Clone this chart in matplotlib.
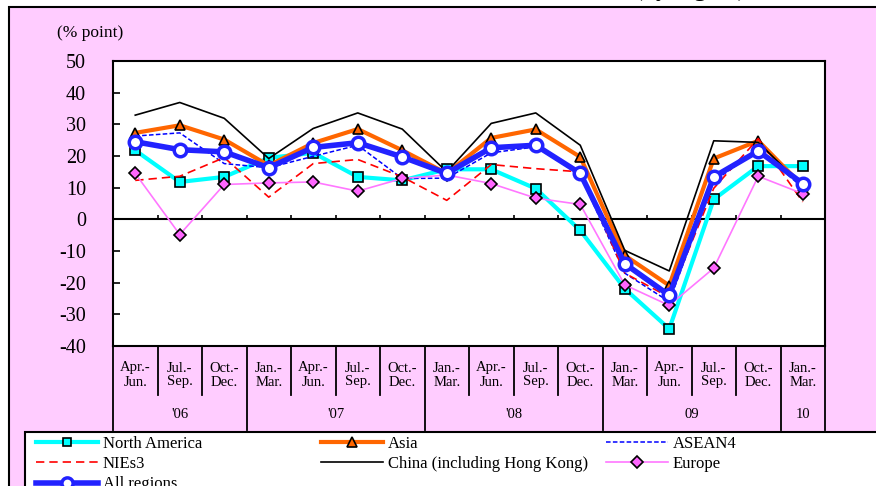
import matplotlib
matplotlib.use("Agg")
import matplotlib.pyplot as plt
import numpy as np
from matplotlib.patches import Rectangle
from matplotlib.transforms import blended_transform_factory

plt.rcParams['font.family'] = ['Liberation Serif', 'DejaVu Serif']
plt.rcParams['axes.unicode_minus'] = False

quarters = ['Apr.-\nJun.', 'Jul.-\nSep.', 'Oct.-\nDec.',
            'Jan.-\nMar.', 'Apr.-\nJun.', 'Jul.-\nSep.', 'Oct.-\nDec.',
            'Jan.-\nMar.', 'Apr.-\nJun.', 'Jul.-\nSep.', 'Oct.-\nDec.',
            'Jan.-\nMar.', 'Apr.-\nJun.', 'Jul.-\nSep.', 'Oct.-\nDec.',
            'Jan.-\nMar.']
years = ["'06", "'07", "'08", "09", "10"]
year_counts = [3, 4, 4, 4, 1]

north_america = [21.8, 11.8, 13.4, 19.4, 21.0, 13.4, 12.3, 15.8, 15.8, 9.7, -3.5, -21.9, -34.6, 6.3, 16.8, 16.8]
asia = [27.3, 29.7, 25.2, 17.0, 24.1, 28.5, 21.8, 14.5, 25.7, 28.4, 19.7, -11.4, -20.9, 19.2, 24.8, 10.5]
asean4 = [26.3, 27.3, 17.6, 16.3, 19.9, 23.4, 12.9, 13.0, 21.0, 22.9, 14.0, -17.0, -26.0, 12.0, 22.0, 10.0]
nies3 = [12.3, 13.6, 19.5, 7.0, 17.6, 18.9, 13.4, 6.0, 17.3, 16.0, 15.0, -17.0, -24.6, 9.8, 25.5, 5.5]
china = [32.9, 36.9, 31.9, 19.2, 28.7, 33.6, 28.5, 15.0, 30.3, 33.6, 23.4, -9.8, -16.3, 24.8, 24.3, 10.5]
europe = [14.5, -4.8, 11.0, 11.5, 11.8, 8.9, 12.9, 14.0, 11.3, 6.7, 4.7, -20.7, -27.2, -15.4, 13.6, 8.1]
all_regions = [24.5, 22.0, 21.3, 16.3, 22.7, 24.2, 19.7, 14.5, 22.6, 23.4, 14.5, -14.0, -24.0, 13.4, 21.6, 11.3]

pink = '#FFCCFF'
W, H = 876, 486
fig = plt.figure(figsize=(W / 100, H / 100), dpi=100)
fig.patch.set_facecolor('white')

# pink panel with black frame (cut off at right and bottom)
fig.patches.append(Rectangle((9 / W, -0.05), 1.0, 1 - 7 / H + 0.05, transform=fig.transFigure,
                             facecolor=pink, edgecolor='black', linewidth=1.5, zorder=-10))
fig.text(690 / W, 1 + 3.5 / H, '(by region)', ha='center', va='baseline',
         fontsize=17, fontweight='bold')

ax = fig.add_axes([113 / W, 1 - 346 / H, 712 / W, 285 / H])
ax.set_facecolor('white')
x = np.arange(len(quarters))

ax.plot(x, north_america, color='#00FFFF', lw=3, marker='s', ms=6.5,
        mfc='#00FFFF', mec='black', mew=1.2, label='North America')
ax.plot(x, asia, color='#FF6600', lw=3, marker='^', ms=7.5,
        mfc='#FF6600', mec='black', mew=1.2, label='Asia')
ax.plot(x, asean4, color='#0000FF', lw=1.1, ls=(0, (3, 1.5)), label='ASEAN4')
ax.plot(x, nies3, color='#FF0000', lw=1.2, ls=(0, (5, 3)), label='NIEs3')
ax.plot(x, china, color='black', lw=1.2, label='China (including Hong Kong)')
ax.plot(x, europe, color='#FF77FF', lw=1.2, marker='D', ms=6.5,
        mfc='#FF66FF', mec='black', mew=1.2, label='Europe')
ax.plot(x, all_regions, color='#2222FF', lw=4, marker='o', ms=9,
        mfc='white', mec='#2222FF', mew=2.5, label='All regions')

ax.set_xlim(-0.5, len(quarters) - 0.5)
ax.set_ylim(-40, 50)
ax.set_yticks(np.arange(-40, 51, 10))
ax.set_xticks([])
ax.tick_params(axis='y', direction='in', length=5, width=1.2, pad=19.5, labelsize=14.5)
for s in ax.spines.values():
    s.set_linewidth(1.5)

# zero line with small ticks at quarter boundaries
ax.axhline(0, color='black', lw=1.5, zorder=1)
bounds = np.arange(-0.5, len(quarters), 1.0)
ax.vlines(bounds[1:-1], 0, 1.3, color='black', lw=1.2, zorder=1)

fig.text(57 / W, 1 - 33 / H, '(% point)', ha='left', va='center', fontsize=12.5)

# category table below the plot
tr = blended_transform_factory(ax.transData, ax.transAxes)
q_bottom = -(395 - 346) / 285
y_bottom = -(430 - 346) / 285
year_edges = np.concatenate([[0], np.cumsum(year_counts)]) - 0.5
for b in bounds:
    yb = y_bottom if b in year_edges else q_bottom
    ax.plot([b, b], [0, yb], color='black', lw=1.3, transform=tr, clip_on=False)
for xi, q in zip(x, quarters):
    ax.text(xi, -(375 - 346) / 285, q, transform=tr, ha='center', va='center',
            fontsize=10.5, linespacing=1.1)
for i, yr in enumerate(years):
    xc = (year_edges[i] + year_edges[i + 1]) / 2
    ax.text(xc, -(415 - 346) / 285, yr, transform=tr, ha='center', va='center', fontsize=10.5)

# legend box (cut off at bottom)
fig.patches.append(Rectangle((25 / W, -0.2), 1.0, 0.2 + (H - 432) / H, transform=fig.transFigure,
                             facecolor='white', edgecolor='black', linewidth=1.5, zorder=-5))
handles, labels = ax.get_legend_handles_labels()
lookup = dict(zip(labels, handles))
columns = [(['North America', 'NIEs3', 'All regions'], 36),
           (['Asia', 'China (including Hong Kong)'], 321),
           (['ASEAN4', 'Europe'], 606)]
for names, xpx in columns:
    fig.legend([lookup[n] for n in names], names, loc='upper left',
               bbox_to_anchor=(xpx / W, (H - 436) / H), frameon=False,
               fontsize=12, borderpad=0, borderaxespad=0, handlelength=3.7,
               handletextpad=0.3, labelspacing=0.25, markerscale=0.9)

fig.savefig('out.png', dpi=100, facecolor=fig.get_facecolor())
